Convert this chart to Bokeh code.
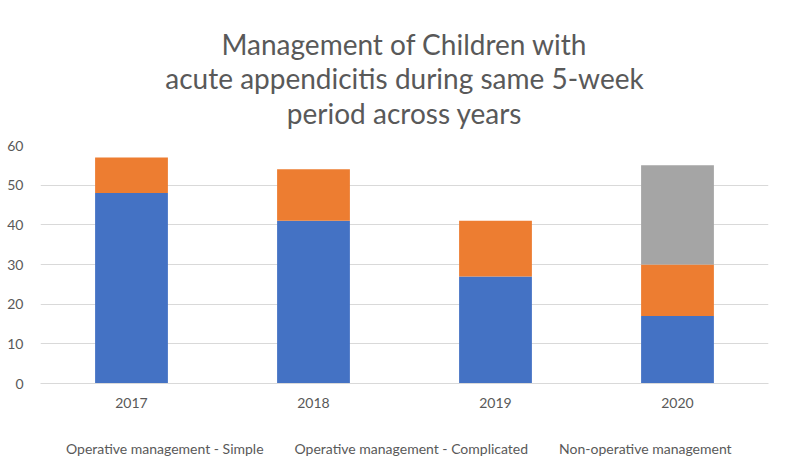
from bokeh.plotting import figure
from bokeh.models import Legend, LegendItem, Range1d, FactorRange, ColumnDataSource
from bokeh.core.properties import value
from bokeh.layouts import column
from bokeh.embed import file_html
from bokeh.resources import INLINE

years = ["2017", "2018", "2019", "2020"]
simple = [48, 41, 27, 17]
complicated = [9, 13, 14, 13]
non_operative = [0, 0, 0, 25]
series = ["simple", "complicated", "non_operative"]
series_labels = ["Operative management - Simple",
                 "Operative management - Complicated",
                 "Non-operative management"]
colors = ["#4472C4", "#ED7D31", "#A5A5A5"]
title_lines = ["Management of Children with",
               "acute appendicitis during same 5-week",
               "period across years"]
y_ticks = [0, 10, 20, 30, 40, 50, 60]

FONT = "Lato"
TXT = "#595959"
W = 787
BL, BR = 40, 19  # left / right borders shared by all stacked figures


def blank(height, x_range, y_range):
    f = figure(width=W, height=height, output_backend="svg",
               toolbar_location=None, x_axis_type=None, y_axis_type=None,
               min_border_left=BL, min_border_right=BR,
               min_border_top=0, min_border_bottom=0,
               x_range=x_range, y_range=y_range)
    f.outline_line_color = None
    f.xgrid.grid_line_color = None
    f.ygrid.grid_line_color = None
    return f


# ---- title block (pixel coordinate system) ----
TH = 135
tf = blank(TH, Range1d(BL, W - BR), Range1d(0, TH))
first_baseline = 92
line_step = 34.5
tsrc = ColumnDataSource(dict(
    x=[404] * len(title_lines),
    y=[first_baseline - i * line_step for i in range(len(title_lines))],
    t=title_lines))
tf.text(x="x", y="y", text="t", source=tsrc, text_align="center",
        text_baseline="alphabetic", text_font=value(FONT),
        text_font_size="28px", text_color=TXT)

# ---- main chart ----
data = dict(years=years, simple=simple, complicated=complicated,
            non_operative=non_operative)

p = figure(x_range=FactorRange(*years), y_range=Range1d(0, 60),
           width=W, height=278, output_backend="svg", toolbar_location=None,
           min_border_left=BL, min_border_right=BR, min_border_top=10,
           min_border_bottom=30, title=None)

renderers = p.vbar_stack(series, x="years", width=0.4, color=colors,
                         line_color=None, source=data)

p.yaxis.ticker = y_ticks
p.yaxis.axis_line_color = None
p.yaxis.major_tick_line_color = None
p.yaxis.minor_tick_line_color = None
p.yaxis.major_label_text_color = TXT
p.yaxis.major_label_text_font = FONT
p.yaxis.major_label_text_font_size = "14px"
p.yaxis.major_label_standoff = 11

p.xaxis.axis_line_color = "#D9D9D9"
p.xaxis.major_tick_line_color = None
p.xaxis.minor_tick_line_color = None
p.xaxis.major_label_text_color = TXT
p.xaxis.major_label_text_font = FONT
p.xaxis.major_label_text_font_size = "14px"
p.xaxis.major_label_standoff = 8

p.xgrid.grid_line_color = None
p.ygrid.grid_line_color = "#D9D9D9"
p.outline_line_color = None

# ---- legend block ----
lg = blank(49, Range1d(0, 1), Range1d(0, 1))
legend_renderers = [lg.vbar(x=[], top=[], width=0.5, fill_color=c,
                            line_color=None) for c in colors]
items = [LegendItem(label=lab, renderers=[r])
         for lab, r in zip(series_labels, legend_renderers)]
legend = Legend(items=items, orientation="horizontal", location=(14, 5),
                label_text_font=FONT, label_text_font_size="14px",
                label_text_color=TXT, glyph_width=8, glyph_height=8,
                spacing=19, label_standoff=4, border_line_color=None,
                background_fill_alpha=0, padding=1, margin=0)
lg.add_layout(legend)

layout = column(tf, p, lg, spacing=0)
open("out.html", "w").write(file_html(layout, INLINE))
